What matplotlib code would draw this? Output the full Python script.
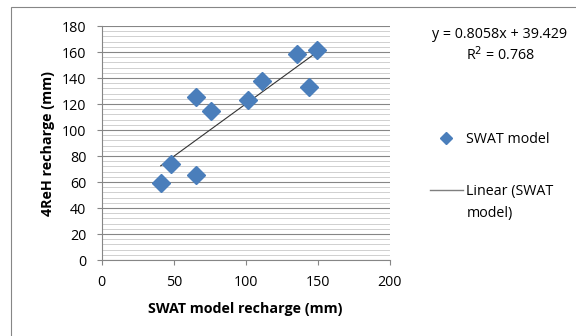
import matplotlib.pyplot as plt
import numpy as np
from matplotlib.ticker import MultipleLocator
from matplotlib.lines import Line2D

# values
swat = [41.0, 47.9, 65.5, 65.5, 75.9, 101.4, 111.1, 135.8, 143.7, 149.3]
reh = [59.5, 73.6, 65.4, 125.1, 114.9, 122.8, 137.4, 158.5, 132.8, 161.5]
slope = 0.8058
intercept = 39.429
r2 = 0.768

blue = '#4a7ebb'
fs = 10.3
plt.rcParams['font.family'] = ['Open Sans', 'DejaVu Sans']

fig = plt.figure(figsize=(5.76, 3.36), dpi=100)
# outer chart frame (runs off the right and bottom edges)
fig.patches.append(plt.Rectangle((11/576, -10/336), 600/576, 339/336, transform=fig.transFigure,
                                 fill=False, edgecolor='#868686', linewidth=0.8))
ax = fig.add_axes([101.7/576, 1-260/336, 288/576, 234/336])

ax.set_xlim(0, 200)
ax.set_ylim(0, 180)
ax.xaxis.set_major_locator(MultipleLocator(50))
ax.yaxis.set_major_locator(MultipleLocator(20))
ax.yaxis.set_minor_locator(MultipleLocator(4))
ax.grid(which='major', axis='y', color='#868686', linewidth=0.8)
ax.grid(which='minor', axis='y', color='#d0d0d0', linewidth=0.7)
ax.set_axisbelow(True)
for s in ['top', 'right']:
    ax.spines[s].set_visible(False)
for s in ['left', 'bottom']:
    ax.spines[s].set_color('#868686')
ax.tick_params(which='major', length=3.6, color='#868686', labelsize=fs, colors='#868686',
               labelcolor='black', pad=7.5)
ax.tick_params(which='minor', length=0)

xs = np.array([min(swat), max(swat)])
ax.plot(xs, slope*xs + intercept, color='#333333', linewidth=0.8, zorder=2)
ax.plot(swat, reh, 'D', color=blue, markersize=9, zorder=3)

ax.set_xlabel('SWAT model recharge (mm)', fontweight='bold', fontsize=fs, labelpad=8)
ax.set_ylabel('4ReH recharge (mm)', fontweight='bold', fontsize=fs, labelpad=5)

fig.text(500/576, 1-34/336, 'y = 0.8058x + 39.429', ha='center', va='center', fontsize=fs)
fig.text(500/576, 1-55/336, 'R$^2$ = %.3f' % r2, ha='center', va='center', fontsize=fs)

handles = [Line2D([], [], marker='D', color=blue, linestyle='none', markersize=6),
           Line2D([], [], color='#7f7f7f', linewidth=1)]
leg = fig.legend(handles, ['SWAT model', 'Linear (SWAT'], loc='upper left',
                 bbox_to_anchor=(417/576, 1-119/336), frameon=False, fontsize=fs,
                 handlelength=2.3, labelspacing=2.6, handletextpad=0.25)
# second line of the trend-line label
fig.canvas.draw()
t2 = leg.get_texts()[1]
bb = t2.get_window_extent()
x0 = fig.transFigure.inverted().transform((bb.x0, 0))[0]
fig.text(x0, 1-214/336, 'model)', ha='left', va='center', fontsize=fs)

fig.savefig('out.png', dpi=100)
